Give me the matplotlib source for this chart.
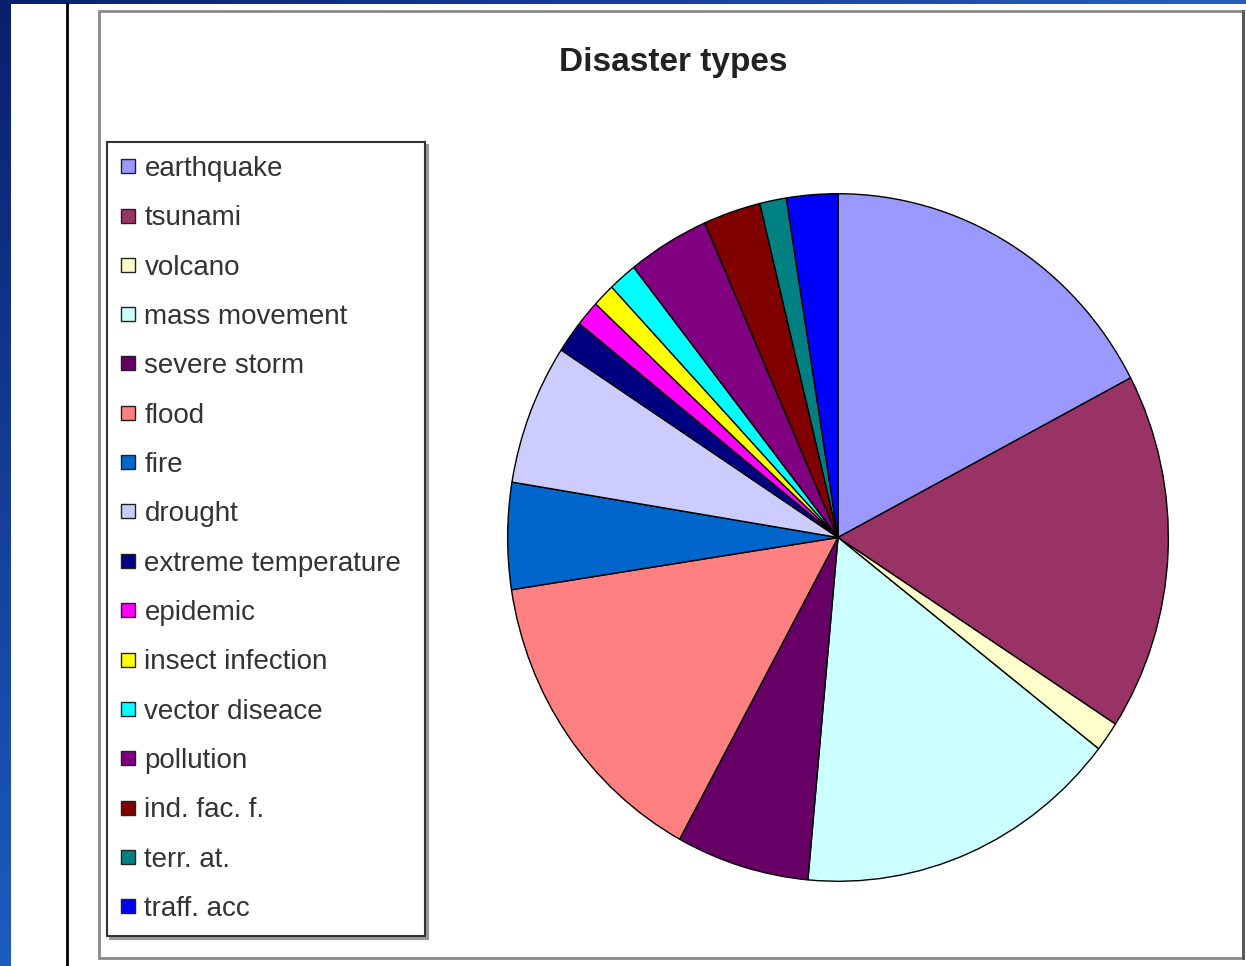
import numpy as np
import matplotlib
matplotlib.use("Agg")
from matplotlib import pyplot as plt
from matplotlib.patches import Rectangle
from matplotlib.lines import Line2D

plt.rcParams['font.family'] = ['Liberation Sans', 'DejaVu Sans']

# data (share in %)
labels = ["earthquake", "tsunami", "volcano", "mass movement", "severe storm",
          "flood", "fire", "drought", "extreme temperature", "epidemic",
          "insect infection", "vector diseace", "pollution", "ind. fac. f.",
          "terr. at.", "traff. acc"]
values = [17.3, 16.8, 1.4, 15.9, 6.5, 14.6, 5.0, 6.6, 1.5, 1.2, 1.1, 1.4,
          4.0, 2.8, 1.3, 2.5]
colors = ["#9999FF", "#993366", "#FFFFCC", "#CCFFFF", "#660066", "#FF8080",
          "#0066CC", "#CCCCFF", "#000080", "#FF00FF", "#FFFF00", "#00FFFF",
          "#800080", "#800000", "#008080", "#0000FF"]

W, H = 1246, 966
fig = plt.figure(figsize=(W / 100, H / 100), dpi=100)
fig.patch.set_facecolor("white")

# blue slide background strips (left and top)
bg = fig.add_axes([0, 0, 11 / W, 1])
grad = np.linspace(0, 1, 256).reshape(-1, 1)
cmap = matplotlib.colors.LinearSegmentedColormap.from_list("bl", ["#0a1f6e", "#1d5cc0"])
bg.imshow(grad, aspect="auto", cmap=cmap, origin="upper")
bg.set_axis_off()
top = fig.add_axes([0, 1 - 4 / H, 1, 4 / H])
top.imshow(np.linspace(0, 1, 256).reshape(1, -1), aspect="auto",
           cmap=matplotlib.colors.LinearSegmentedColormap.from_list("bt", ["#0a1f6e", "#163f9a", "#2a5fb8"]))
top.set_axis_off()

# black vertical rule and chart-area frame
fig.add_artist(Line2D([66.5 / W, 66.5 / W], [0, 1 - 4 / H], color="black", lw=2))
fig.add_artist(Rectangle((99 / W, 1 - 958 / H), (1243 - 99) / W, (958 - 11) / H,
                         transform=fig.transFigure, fill=False, ec="#8a8a8a", lw=2))
fig.add_artist(Line2D([1243 / W, 1243 / W], [1 - 958 / H, 1 - 11 / H], color="#555555", lw=2))

fig.text(673 / W, 1 - 62 / H, "Disaster types", ha="center", va="center",
         fontsize=24, fontweight="bold", color="#222222")

# pie (slightly taller than wide, as in the picture)
ax = fig.add_axes([506 / W, 1 - 883 / H, 664 / W, 691 / H])
wedges, _ = ax.pie(values, colors=colors, startangle=90, counterclock=False,
                   radius=1, wedgeprops=dict(edgecolor="black", linewidth=1))
ax.set_aspect("auto")
ax.set_xlim(-1.005, 1.005)
ax.set_ylim(-1.005, 1.005)
ax.set_axis_off()

handles = [Line2D([], [], marker="s", linestyle="none", markersize=9.5,
                  markerfacecolor=c, markeredgecolor="#222222", markeredgewidth=1)
           for c in colors]
leg = fig.legend(handles, labels, loc="upper left",
                 bbox_to_anchor=(107 / W, 1 - 933 / H, 318 / W, 791 / H),
                 mode="expand", fontsize=20, frameon=True, fancybox=False,
                 edgecolor="#333333", labelspacing=0.84, handlelength=0.5,
                 handletextpad=0.35, borderpad=0.5, borderaxespad=0,
                 labelcolor="#333333",
                 shadow={"color": "0.6", "alpha": 1})
leg.get_frame().set_linewidth(1.5)

fig.savefig("out.png", dpi=100)
